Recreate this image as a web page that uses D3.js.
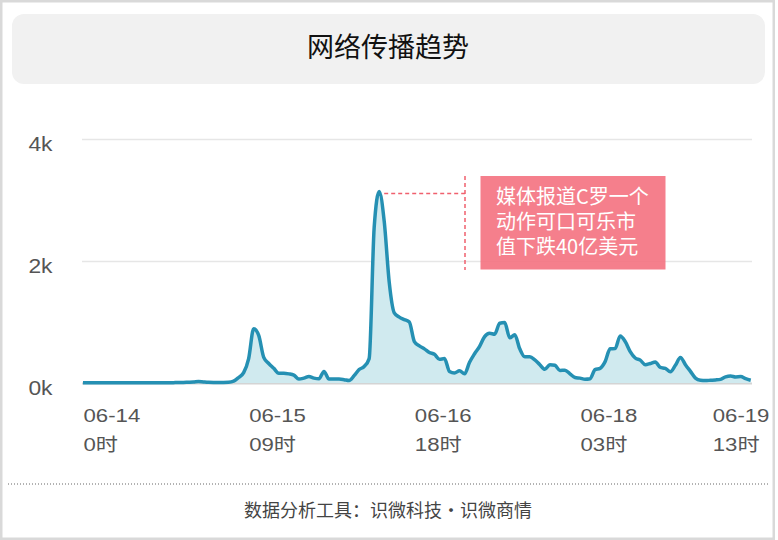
<!DOCTYPE html>
<html><head><meta charset="utf-8">
<script src="https://cdn.jsdelivr.net/npm/d3@7"></script>
<style>html,body{margin:0;padding:0;background:#fff;}svg{display:block}</style>
</head><body><svg id="c" width="778" height="540"></svg>
<script>
const titleText = "网络传播趋势";
const footerText = "数据分析工具：识微科技・识微商情";
// hourly values, starting 06-14 0时
const values = [
  5,5,6,5,5,6,5,5,6,5, 5,5,6,5,5,6,5,5,6,8,
  10,12,15,25,18,12,10,10,10,12, 30,90,170,400,890,780,420,320,240,160,
  160,150,130,65,80,105,80,70,190,65, 65,65,55,40,120,220,270,400,2550,3140,
  2650,1650,1150,1080,1040,1000,680,610,560,500, 470,390,400,190,165,200,150,340,480,600,
  760,815,800,980,990,740,790,560,430,430, 380,300,225,300,290,205,210,150,90,80,
  62,70,220,240,350,560,565,770,680,515, 410,375,300,320,345,255,240,185,290,420,
  300,190,80,45,40,45,50,60,100,115, 100,105,70,45
];
const tickIndex = [0, 33, 66, 99, 132];
const tickDates = ["06-14", "06-15", "06-16", "06-18", "06-19"];
const tickHours = ["0时", "09时", "18时", "03时", "13时"];
const yTicks = [0, 2000, 4000];
const yTickLabels = ["0k", "2k", "4k"];
const noteLines = ["媒体报道C罗一个", "动作可口可乐市", "值下跌40亿美元"];

const svg = d3.select("#c");
const cjk = "'Noto Sans CJK SC','Noto Sans',sans-serif";
const latin = "'Liberation Sans','Noto Sans CJK SC',sans-serif";

// card border
svg.append("rect").attr("x",1.25).attr("y",1.25).attr("width",772.5).attr("height",537.5)
  .attr("fill","#fff").attr("stroke","#d9d9d9").attr("stroke-width",2.5);
// title box
svg.append("rect").attr("x",12).attr("y",14).attr("width",753).attr("height",70)
  .attr("rx",12).attr("fill","#f1f1f1");
svg.append("text").attr("x",388).attr("y",45).attr("text-anchor","middle")
  .attr("dominant-baseline","central").attr("font-family",cjk).attr("font-size",27)
  .attr("fill","#111").text(titleText);

const x = d3.scaleLinear().domain([0, values.length - 1]).range([83, 750.7]);
const y = d3.scaleLinear().domain([0, 4000]).range([383, 139]);

// y grid + labels
const gy = svg.append("g").attr("transform","translate(82,0)")
  .call(d3.axisLeft(y).tickValues(yTicks).tickSize(-670).tickFormat((d,i)=>yTickLabels[i]));
gy.select(".domain").remove();
gy.selectAll(".tick line").attr("stroke",(d)=>d===0?"#d4d4d4":"#e6e6e6").attr("stroke-width",(d)=>d===0?2:1.5);
gy.selectAll(".tick text").each(function(d){
  const t = d3.select(this);
  const ty = y(d);
  t.attr("x",0).attr("dy",null).attr("y",0).attr("text-anchor","end")
   .attr("font-family",latin).attr("font-size",19.5).attr("fill","#555")
   .attr("transform",`translate(-29.5,${11}) scale(1.17,1)`);
});

// area + line
const area = d3.area().x((d,i)=>x(i)).y0(y(0)).y1(d=>y(d)).curve(d3.curveMonotoneX);
const line = d3.line().x((d,i)=>x(i)).y(d=>y(d)).curve(d3.curveMonotoneX);
svg.append("path").datum(values).attr("d",area).attr("fill","#d0eaef");
svg.append("path").datum(values).attr("d",line).attr("fill","none")
  .attr("stroke","#2590b3").attr("stroke-width",3.5).attr("stroke-linejoin","round");

// x axis labels
const gx = svg.append("g").attr("transform",`translate(0,${y(0)})`)
  .call(d3.axisBottom(x).tickValues(tickIndex).tickSize(0).tickFormat(""));
gx.select(".domain").remove();
gx.selectAll(".tick").each(function(d,i){
  const g = d3.select(this);
  g.selectAll("text").remove();
  const t = g.append("text").attr("font-family",latin).attr("font-size",18.5)
    .attr("fill","#555").attr("text-anchor","start");
  t.append("tspan").attr("x",0).attr("y",0).text(tickDates[i]);
  t.append("tspan").attr("x",0).attr("y",29.5).text(tickHours[i]);
  const w = t.node().getBBox().width * 1.2;
  const px = x(d);
  const shift = Math.min(0, 769 - (px + w));
  t.attr("transform",`translate(${shift},38.7) scale(1.2,1)`);
});

// annotation
const peakIdx = values.indexOf(d3.max(values));
const peakY = y(values[peakIdx]) + 2;
svg.append("line").attr("x1",x(peakIdx)+5).attr("x2",465).attr("y1",peakY).attr("y2",peakY)
  .attr("stroke","#f0606e").attr("stroke-width",1.5).attr("stroke-dasharray","4,3");
svg.append("line").attr("x1",465).attr("x2",465).attr("y1",176).attr("y2",270)
  .attr("stroke","#f0606e").attr("stroke-width",1.5).attr("stroke-dasharray","4,3");
svg.append("rect").attr("x",480.5).attr("y",176).attr("width",185).attr("height",93.5)
  .attr("fill","#f47482").attr("fill-opacity",0.92);
const nt = svg.append("text").attr("font-family",cjk).attr("font-size",20).attr("fill","#fff");
noteLines.forEach((s,i)=>nt.append("tspan").attr("x",496).attr("y",204+25*i).text(s));

// footer
svg.append("line").attr("x1",8).attr("x2",768).attr("y1",484).attr("y2",484)
  .attr("stroke","#666").attr("stroke-width",1).attr("stroke-dasharray","1,2");
svg.append("text").attr("x",388).attr("y",508.5).attr("text-anchor","middle")
  .attr("dominant-baseline","central").attr("font-family",cjk).attr("font-size",18)
  .attr("fill","#444").text(footerText);
</script></body></html>
